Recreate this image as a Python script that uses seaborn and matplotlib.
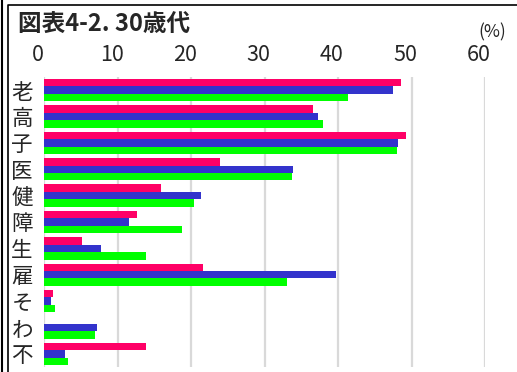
import matplotlib.pyplot as plt
import matplotlib.transforms as mtransforms
import pandas as pd
import seaborn as sns
from matplotlib.lines import Line2D

CATEGORIES = ["老", "高", "子", "医", "健", "障", "生", "雇", "そ", "わ", "不"]
SERIES = ["系列1", "系列2", "系列3"]
VALUES_1 = [48.6, 36.6, 49.3, 23.9, 15.9, 12.6, 5.2, 21.7, 1.2, 0.0, 13.9]
VALUES_2 = [47.5, 37.3, 48.1, 33.9, 21.3, 11.6, 7.7, 39.7, 0.9, 7.2, 2.8]
VALUES_3 = [41.4, 37.9, 48.0, 33.8, 20.4, 18.8, 13.9, 33.1, 1.5, 6.9, 3.3]
X_TICKS = [0, 10, 20, 30, 40, 50, 60]

COLORS = ["#FF0066", "#3333CC", "#00FF00"]  # pink, blue, green

sns.set_style("white")
plt.rcParams["font.family"] = ["Noto Sans CJK JP", "DejaVu Sans"]

rows = []
for name, vals in zip(SERIES, [VALUES_1, VALUES_2, VALUES_3]):
    for cat, v in zip(CATEGORIES, vals):
        rows.append({"item": cat, "value": v, "series": name})
df = pd.DataFrame(rows)

W, H = 517, 372
fig = plt.figure(figsize=(W / 100, H / 100), dpi=100)
ax = fig.add_axes([44 / W, 1 - 367 / H, (485 - 44) / W, (367 - 77) / H])

sns.barplot(
    data=df,
    y="item",
    x="value",
    hue="series",
    order=CATEGORIES,
    hue_order=SERIES,
    palette=COLORS,
    saturation=1,
    orient="h",
    width=0.85,
    gap=0,
    linewidth=0,
    legend=False,
    ax=ax,
)

ax.set_xlim(0, 60)
ax.set_ylim(10.5, -0.5)
ax.set_xlabel("")
ax.set_ylabel("")
for s in ax.spines.values():
    s.set_visible(False)

# ---- grid ----
ax.set_axisbelow(True)
ax.grid(axis="x", color="#D9D9D9", lw=1.6)
ax.grid(axis="y", visible=False)

# ---- ticks ----
ax.xaxis.tick_top()
ax.set_xticks(X_TICKS)
ax.set_xticklabels([str(t) for t in X_TICKS], fontsize=15.5)
ax.tick_params(axis="x", length=0, pad=8)
ax.tick_params(axis="y", length=0, pad=8, labelsize=15.5)
shift = mtransforms.ScaledTranslation(-6 / 100, 0, fig.dpi_scale_trans)
for lab in ax.get_xticklabels():
    lab.set_transform(lab.get_transform() + shift)

# ---- texts ----
fig.text(18 / W, 1 - 25 / H, "図表4-2. 30歳代", fontsize=17, fontweight="bold",
         ha="left", va="center")
fig.text(492 / W, 1 - 32 / H, "(%)", fontsize=12.5, ha="center", va="center")

# ---- frame ----
fig.add_artist(Line2D([8 / W, 8 / W, 1], [0, 1 - 5 / H, 1 - 5 / H],
                      transform=fig.transFigure, color="black", lw=1.2))
fig.add_artist(Line2D([1.5 / W, 1.5 / W], [0, 1],
                      transform=fig.transFigure, color="black", lw=1.5))

fig.savefig("out.png", dpi=100)
